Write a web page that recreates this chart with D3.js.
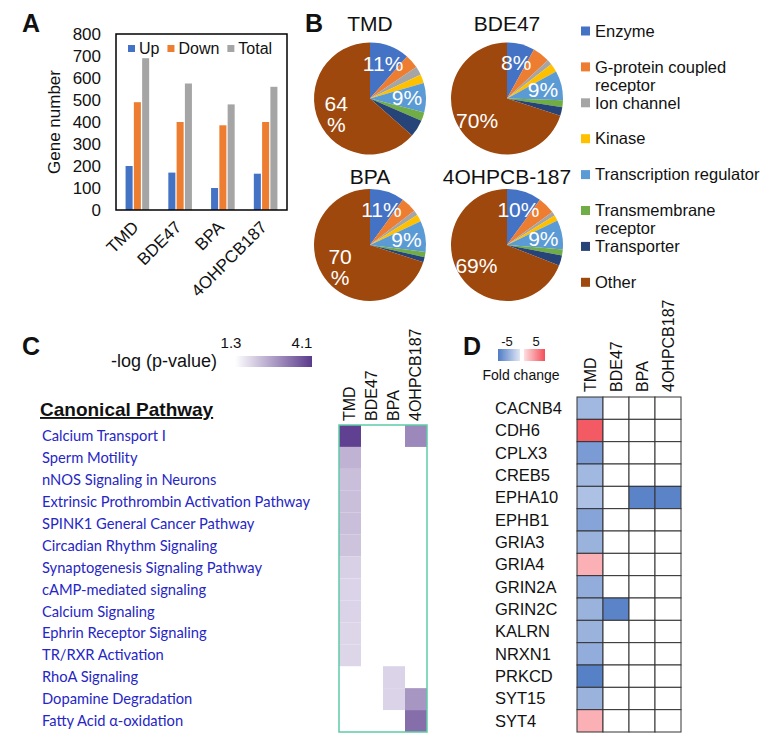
<!DOCTYPE html>
<html>
<head>
<meta charset="utf-8">
<script src="https://cdn.jsdelivr.net/npm/d3@7"></script>
<style>
  body { margin: 0; background: #fff; }
  svg text { font-family: "Liberation Sans", Arial, sans-serif; fill: #111; }
</style>
</head>
<body>
<svg id="fig" width="781" height="745"></svg>
<script>
// ---- data, panel A
const compounds = ["TMD", "BDE47", "BPA", "4OHPCB187"];
const barSeries = ["Up", "Down", "Total"];
const barColors = ["#4472c4", "#ed7d31", "#a5a5a5"];
const upCounts = [200, 170, 100, 165];
const downCounts = [490, 400, 385, 400];
const totalCounts = [690, 575, 480, 560];
const yTicks = [0, 100, 200, 300, 400, 500, 600, 700, 800];

// ---- data, panel B (percent of genes per protein class)
const pieTitles = ["TMD", "BDE47", "BPA", "4OHPCB-187"];
const proteinClasses = ["Enzyme", "G-protein coupled|receptor", "Ion channel", "Kinase",
  "Transcription regulator", "Transmembrane|receptor", "Transporter", "Other"];
const classColors = ["#4472c4", "#ed7d31", "#a5a5a5", "#ffc000", "#5b9bd5", "#70ad47", "#264478", "#9e480e"];
const pieTMD = [11.5, 4, 2.5, 2.5, 8.5, 2.5, 5, 63.5];
const pieBDE47 = [8, 5, 1.5, 2.5, 8.5, 2, 2.5, 70];
const pieBPA = [10, 4.5, 1.5, 2, 9, 1.5, 1.5, 70];
const pieOH = [10, 5, 1.2, 1.6, 8.5, 1.7, 3, 69];
const labelsTMD = ["11%", "", "", "", "9%", "", "", "64|%"];
const labelsBDE47 = ["8%", "", "", "", "9%", "", "", "70%"];
const labelsBPA = ["11%", "", "", "", "9%", "", "", "70|%"];
const labelsOH = ["10%", "", "", "", "9%", "", "", "69%"];

// ---- data, panel C (-log p-value)
const pathways = ["Calcium Transport I", "Sperm Motility", "nNOS Signaling in Neurons",
  "Extrinsic Prothrombin Activation Pathway", "SPINK1 General Cancer Pathway",
  "Circadian Rhythm Signaling", "Synaptogenesis Signaling Pathway", "cAMP-mediated signaling",
  "Calcium Signaling", "Ephrin Receptor Signaling", "TR/RXR Activation", "RhoA Signaling",
  "Dopamine Degradation", "Fatty Acid \u03b1-oxidation"];
const logpTMD = [4.0, 2.25, 2.05, 2.05, 2.05, 2.0, 1.8, 1.75, 1.75, 1.7, 1.7, null, null, null];
const logpBDE47 = [null, null, null, null, null, null, null, null, null, null, null, null, null, null];
const logpBPA = [null, null, null, null, null, null, null, null, null, null, null, 1.75, 1.75, null];
const logpOH = [2.9, null, null, null, null, null, null, null, null, null, null, null, 2.7, 3.3];

// ---- data, panel D (fold change)
const genes = ["CACNB4", "CDH6", "CPLX3", "CREB5", "EPHA10", "EPHB1", "GRIA3", "GRIA4",
  "GRIN2A", "GRIN2C", "KALRN", "NRXN1", "PRKCD", "SYT15", "SYT4"];
const fcTMD = [-2.4, 4.2, -3.4, -2.4, -2.1, -3.1, -2.6, 2.0, -2.8, -2.6, -2.6, -2.8, -4.3, -2.6, 2.0];
const fcBDE47 = [null, null, null, null, null, null, null, null, null, -4.2, null, null, null, null, null];
const fcBPA = [null, null, null, null, -4.2, null, null, null, null, null, null, null, null, null, null];
const fcOH = [null, null, null, null, -4.2, null, null, null, null, null, null, null, null, null, null];

const svg = d3.select('#fig');
const defs = svg.append('defs');

function panelLetter(t, x, y) {
  svg.append('text').attr('x', x).attr('y', y).attr('font-size', 25)
    .attr('font-weight', 'bold').text(t);
}

// ================= A: bar chart =================
panelLetter('A', 22, 32);
const A = { left: 116, right: 287, top: 34, bottom: 210 };
const xA = d3.scaleBand().domain(compounds).range([A.left, A.right])
  .paddingInner(0.39).paddingOuter(0.195);
const xSub = d3.scaleBand().domain(barSeries).range([0, xA.bandwidth()]).padding(0.15);
const yA = d3.scaleLinear().domain([0, 800]).range([A.bottom, A.top]);
const barValues = [upCounts, downCounts, totalCounts];

const gA = svg.append('g');
barSeries.forEach((s, k) => {
  gA.append('g').attr('fill', barColors[k])
    .selectAll('rect').data(compounds).join('rect')
    .attr('x', d => xA(d) + xSub(s))
    .attr('width', xSub.bandwidth())
    .attr('y', (d, i) => yA(barValues[k][i]))
    .attr('height', (d, i) => yA(0) - yA(barValues[k][i]));
});

gA.append('rect').attr('x', A.left).attr('y', A.top)
  .attr('width', A.right - A.left).attr('height', A.bottom - A.top)
  .attr('fill', 'none').attr('stroke', '#000').attr('stroke-width', 1.5);

const yAxisA = gA.append('g').attr('transform', `translate(${A.left},0)`)
  .call(d3.axisLeft(yA).tickValues(yTicks).tickSize(0).tickPadding(15));
yAxisA.select('.domain').remove();
yAxisA.attr('font-size', 17).attr('font-family', null);

const xAxisA = gA.append('g').attr('transform', `translate(0,${A.bottom})`)
  .call(d3.axisBottom(xA).tickSize(0));
xAxisA.select('.domain').remove();
xAxisA.attr('font-size', 17).attr('font-family', null);
xAxisA.selectAll('text')
  .attr('x', 0).attr('y', 0).attr('dy', '0.35em')
  .attr('transform', 'translate(-2,14) rotate(-45)')
  .style('text-anchor', 'end');

svg.append('text').attr('transform', `translate(60,${(A.top + A.bottom) / 2}) rotate(-90)`)
  .attr('text-anchor', 'middle').attr('font-size', 17).text('Gene number');

// legend A, laid out left to right
let lx = 128;
barSeries.forEach((s, k) => {
  gA.append('rect').attr('x', lx).attr('y', 45).attr('width', 7).attr('height', 7).attr('fill', barColors[k]);
  const t = gA.append('text').attr('x', lx + 11).attr('y', 54).attr('font-size', 16).text(s);
  lx += 11 + t.node().getComputedTextLength() + 8;
});

// ================= B: pies =================
panelLetter('B', 305, 32);
const pieSets = [pieTMD, pieBDE47, pieBPA, pieOH];
const pieLabelSets = [labelsTMD, labelsBDE47, labelsBPA, labelsOH];
const pieCenters = [[370, 98.5], [507, 98.5], [370, 245], [507, 245]];
const pieTitleY = [31, 31, 184, 184];
const R = 56;
const pie = d3.pie().sort(null).value(d => d);
const arc = d3.arc().innerRadius(0).outerRadius(R);
const labelArc = d3.arc().innerRadius(37).outerRadius(37);

pieSets.forEach((vals, p) => {
  const [cx, cy] = pieCenters[p];
  svg.append('text').attr('x', cx).attr('y', pieTitleY[p]).attr('text-anchor', 'middle')
    .attr('font-size', 21).text(pieTitles[p]);
  const g = svg.append('g').attr('transform', `translate(${cx},${cy})`);
  const arcs = pie(vals);
  g.selectAll('path').data(arcs).join('path')
    .attr('d', arc).attr('fill', (d, i) => classColors[i]);
  arcs.forEach((a, i) => {
    const lab = pieLabelSets[p][i];
    if (!lab) return;
    const [px, py] = labelArc.centroid(a);
    const lines = lab.split('|');
    const t = g.append('text').attr('text-anchor', 'middle').attr('font-size', 21)
      .style('fill', '#fff');
    lines.forEach((ln, j) => {
      t.append('tspan').attr('x', px)
        .attr('y', py + (j - (lines.length - 1) / 2) * 21)
        .attr('dy', '0.35em').text(ln);
    });
  });
});

// legend B
proteinClasses.forEach((c, i) => {
  const y = 31 + i * 35.9;
  svg.append('rect').attr('x', 581).attr('y', y - 4.5).attr('width', 9).attr('height', 9)
    .attr('fill', classColors[i]);
  const t = svg.append('text').attr('font-size', 16.5);
  c.split('|').forEach((ln, j) => {
    t.append('tspan').attr('x', 595).attr('y', y + j * 18).attr('dy', '0.35em').text(ln);
  });
});

// ================= C: pathway heatmap =================
panelLetter('C', 22, 355);
const colorC = d3.scaleLinear().domain([1.3, 4.1]).range(['#f3f0f8', '#5b3a8c']);
const gradC = defs.append('linearGradient').attr('id', 'gradC');
gradC.append('stop').attr('offset', '0%').attr('stop-color', '#ffffff');
gradC.append('stop').attr('offset', '100%').attr('stop-color', colorC(4.1));

svg.append('text').attr('x', 217).attr('y', 367).attr('text-anchor', 'end')
  .attr('font-size', 18).text('-log (p-value)');
svg.append('rect').attr('x', 235).attr('y', 356).attr('width', 77).attr('height', 11)
  .attr('fill', 'url(#gradC)');
const legC = d3.scaleLinear().domain([1.3, 4.1]).range([231, 302]);
[1.3, 4.1].forEach(v => {
  svg.append('text').attr('x', legC(v)).attr('y', 348).attr('text-anchor', 'middle')
    .attr('font-size', 15).text(v.toFixed(1));
});

svg.append('text').attr('x', 40).attr('y', 416).attr('font-size', 19).attr('font-weight', 'bold')
  .style('text-decoration', 'underline').text('Canonical Pathway');

const xC = d3.scaleBand().domain(compounds).range([339, 427]);
const yC = d3.scaleBand().domain(pathways).range([425, 732]);
const logpSets = [logpTMD, logpBDE47, logpBPA, logpOH];

svg.append('g').selectAll('text').data(pathways).join('text')
  .attr('x', 42).attr('y', d => yC(d) + yC.bandwidth() / 2).attr('dy', '0.35em')
  .attr('font-size', 14.7).style('font-family', 'Lato, "Open Sans", sans-serif')
  .style('fill', '#2626c6').text(d => d);

compounds.forEach((c, j) => {
  svg.append('g').selectAll('rect')
    .data(pathways.map((p, i) => ({ p, v: logpSets[j][i] })).filter(d => d.v != null))
    .join('rect')
    .attr('x', xC(c)).attr('width', xC.bandwidth())
    .attr('y', d => yC(d.p)).attr('height', yC.bandwidth())
    .attr('fill', d => colorC(d.v));
  svg.append('text')
    .attr('transform', `translate(${xC(c) + xC.bandwidth() / 2 + 5},421) rotate(-90)`)
    .attr('font-size', 16).text(c);
});
svg.append('rect').attr('x', 339).attr('y', 425).attr('width', 88).attr('height', 307)
  .attr('fill', 'none').attr('stroke', '#5fcca6').attr('stroke-width', 1.5);

// ================= D: gene fold change =================
panelLetter('D', 463, 355);
const colorD = d3.scaleLinear().domain([-5, 0, 5]).range(['#3c6cbe', '#ffffff', '#f23a46']);
const gradBlue = defs.append('linearGradient').attr('id', 'gradBlue');
gradBlue.append('stop').attr('offset', '0%').attr('stop-color', colorD(-4.5));
gradBlue.append('stop').attr('offset', '100%').attr('stop-color', colorD(-0.8));
const gradRed = defs.append('linearGradient').attr('id', 'gradRed');
gradRed.append('stop').attr('offset', '0%').attr('stop-color', colorD(0.8));
gradRed.append('stop').attr('offset', '100%').attr('stop-color', colorD(4.5));
svg.append('rect').attr('x', 498).attr('y', 349).attr('width', 22).attr('height', 12).attr('fill', 'url(#gradBlue)');
svg.append('rect').attr('x', 524).attr('y', 349).attr('width', 21).attr('height', 12).attr('fill', 'url(#gradRed)');
svg.append('text').attr('x', 507).attr('y', 346).attr('text-anchor', 'middle').attr('font-size', 13).text('-5');
svg.append('text').attr('x', 536).attr('y', 346).attr('text-anchor', 'middle').attr('font-size', 13).text('5');
svg.append('text').attr('x', 521).attr('y', 380).attr('text-anchor', 'middle').attr('font-size', 14).text('Fold change');

const xD = d3.scaleBand().domain(compounds).range([577, 681]);
const yD = d3.scaleBand().domain(genes).range([397, 732]);
const fcSets = [fcTMD, fcBDE47, fcBPA, fcOH];

compounds.forEach((c, j) => {
  svg.append('g').selectAll('rect')
    .data(genes.map((g, i) => ({ g, v: fcSets[j][i] })))
    .join('rect')
    .attr('x', xD(c)).attr('width', xD.bandwidth())
    .attr('y', d => yD(d.g)).attr('height', yD.bandwidth())
    .attr('fill', d => d.v == null ? '#fff' : colorD(d.v))
    .attr('stroke', '#333').attr('stroke-width', 1);
  svg.append('text')
    .attr('transform', `translate(${xD(c) + xD.bandwidth() / 2 + 6},392) rotate(-90)`)
    .attr('font-size', 16).text(c);
});

svg.append('g').selectAll('text').data(genes).join('text')
  .attr('x', 495).attr('y', d => yD(d) + yD.bandwidth() / 2).attr('dy', '0.35em')
  .attr('font-size', 16.5).text(d => d);
</script>
</body>
</html>
